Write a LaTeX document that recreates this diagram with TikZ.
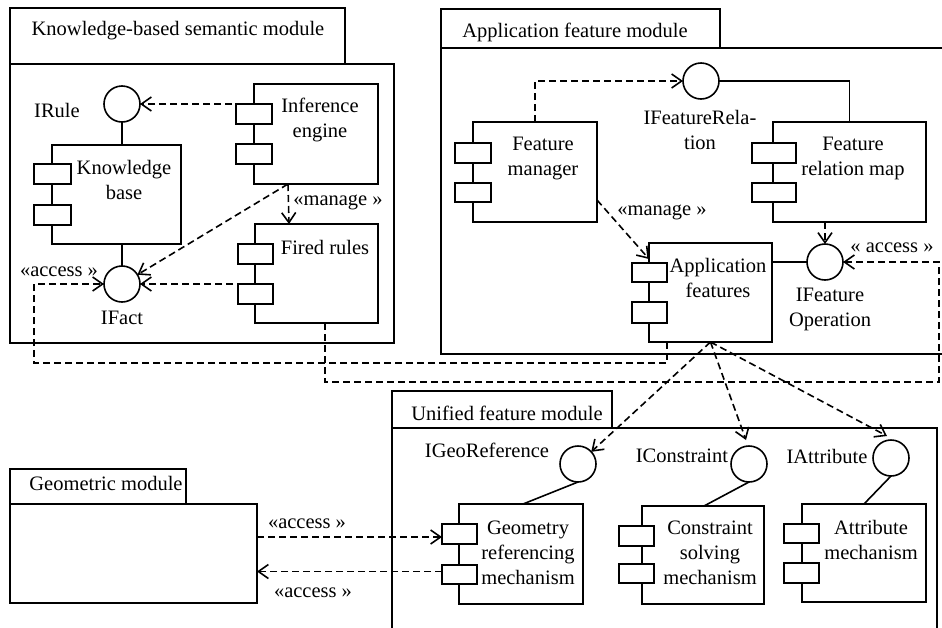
\documentclass[tikz,border=0pt]{standalone}
\usepackage{fontspec}
\setmainfont{Liberation Serif}
\usetikzlibrary{arrows.meta,calc}
\tikzset{
  box/.style={draw, line width=1.6pt, inner sep=0pt, outer sep=0pt, anchor=north west},
  port/.style={box, fill=white},
  iface/.style={circle, draw, line width=1.6pt, minimum size=36pt, inner sep=0pt, outer sep=0pt, fill=white},
  lbl/.style={inner sep=0pt, align=center, font=\fontsize{20.5}{25}\selectfont},
  dep/.style={line width=1.6pt, dash pattern=on 7pt off 4pt, -{Straight Barb[length=10pt,width=14pt,line width=1.6pt]}},
  solid link/.style={line width=1.6pt},
}
\begin{document}
\begin{tikzpicture}[x=1pt,y=-1pt]
\useasboundingbox (0,0) rectangle (942,627);
% ---------- Knowledge-based semantic module
\node[box, minimum width=335pt, minimum height=56pt] (kbtab) at (10,8) {};
\node[box, minimum width=384pt, minimum height=279pt] (kbbody) at (10,64) {};
\node[lbl] (kbtitle) at (178,31) {Knowledge-based semantic module};
% ---------- Application feature module
\node[box, minimum width=279pt, minimum height=39pt] (aptab) at (441,9) {};
\draw[line width=1.6pt] (946,48) -- (441,48) -- (441,354) -- (946,354);
\node[lbl] (aptitle) at (575,32) {Application feature module};
% ---------- Unified feature module
\node[box, minimum width=220pt, minimum height=37pt] (uftab) at (392,391) {};
\draw[line width=1.6pt] (392,632) -- (392,428) -- (937,428) -- (937,632);
\node[lbl] (uftitle) at (507,413) {Unified feature module};
% ---------- Geometric module
\node[box, minimum width=176pt, minimum height=35pt] (gmtab) at (10,469) {};
\node[box, minimum width=247pt, minimum height=99pt] (gm) at (10,504) {};
\node[lbl] (gmtitle) at (106,483) {Geometric module};

% ---------- components (KB module)
\node[box, minimum width=129pt, minimum height=99pt] (kb) at (52,145) {};
\node[port, minimum width=37pt, minimum height=20pt] (kbp1) at (34,164) {};
\node[port, minimum width=37pt, minimum height=20pt] (kbp2) at (34,205) {};
\node[lbl] (kbtext) at (124,180) {Knowledge\\base};

\node[box, minimum width=124pt, minimum height=100pt] (inf) at (254,84) {};
\node[port, minimum width=36pt, minimum height=20pt] (ip1) at (236,104) {};
\node[port, minimum width=36pt, minimum height=20pt] (ip2) at (236,144) {};
\node[lbl] (inftext) at (320,120) {Inference\\engine};

\node[box, minimum width=123pt, minimum height=99pt] (fired) at (255,224) {};
\node[port, minimum width=35pt, minimum height=20pt] (fp1) at (238,244) {};
\node[port, minimum width=35pt, minimum height=20pt] (fp2) at (238,284) {};
\node[lbl] (firedtext) at (325,247) {Fired rules};

\node[iface] (irule) at (122,104) {};
\node[lbl] (irulelbl) at (57,110) {IRule};
\node[iface] (ifact) at (122,284) {};
\node[lbl] (ifactlbl) at (122,318) {IFact};

% ---------- components (Application module)
\node[box, minimum width=124pt, minimum height=100pt] (fm) at (473,122) {};
\node[port, minimum width=36pt, minimum height=20pt] (fmp1) at (455,143) {};
\node[port, minimum width=36pt, minimum height=19pt] (fmp2) at (455,183) {};
\node[lbl] (fmtext) at (543,158) {Feature\\manager};

\node[box, minimum width=153pt, minimum height=100pt] (frm) at (773,122) {};
\node[port, minimum width=44pt, minimum height=20pt] (frmp1) at (752,143) {};
\node[port, minimum width=44pt, minimum height=19pt] (frmp2) at (752,183) {};
\node[lbl] (frmtext) at (853,158) {Feature\\relation map};

\node[box, minimum width=123pt, minimum height=99pt] (af) at (649,243) {};
\node[port, minimum width=35pt, minimum height=19pt] (afp1) at (632,263) {};
\node[port, minimum width=35pt, minimum height=21pt] (afp2) at (632,302) {};
\node[lbl] (aftext) at (718,278) {Application\\features};

\node[iface] (irel) at (701,81) {};
\node[lbl] (irellbl) at (700,130) {IFeatureRela-\\tion};
\node[iface] (ifop) at (825,262) {};
\node[lbl] (ifoplbl) at (830,309) {IFeature\\Operation};

% ---------- components (Unified module)
\node[box, minimum width=124pt, minimum height=100pt] (geo) at (459,504) {};
\node[port, minimum width=35pt, minimum height=20pt] (gp1) at (442,524) {};
\node[port, minimum width=35pt, minimum height=19pt] (gp2) at (442,565) {};
\node[lbl] (geotext) at (528,553) {Geometry\\referencing\\mechanism};

\node[box, minimum width=122pt, minimum height=98pt] (cons) at (642,506) {};
\node[port, minimum width=35pt, minimum height=20pt] (cp1) at (619,526) {};
\node[port, minimum width=35pt, minimum height=19pt] (cp2) at (619,564) {};
\node[lbl] (constext) at (710,553) {Constraint\\solving\\mechanism};

\node[box, minimum width=124pt, minimum height=98pt] (attr) at (802,504) {};
\node[port, minimum width=35pt, minimum height=19pt] (ap1) at (784,524) {};
\node[port, minimum width=35pt, minimum height=20pt] (ap2) at (784,563) {};
\node[lbl] (attrtext) at (871,540) {Attribute\\mechanism};

\node[iface] (igeo) at (578,464) {};
\node[lbl] (igeolbl) at (487,450) {IGeoReference};
\node[iface] (icons) at (749,464) {};
\node[lbl] (iconslbl) at (682,456) {IConstraint};
\node[iface] (iattr) at (891,458) {};
\node[lbl] (iattrlbl) at (827,456) {IAttribute};

% ---------- connectors: KB module
\draw[dep] (inf.west |- irule) -- (irule);
\draw[dep] ([xshift=34pt]inf.south west) -- ([xshift=34pt]fired.north west);
\node[lbl] (mng1) at (338,202) {«manage »};
\draw[dep] ([xshift=34pt]inf.south west) -- (ifact);
\draw[dep] (fired.west |- ifact) -- (ifact);
\draw[solid link] (irule) -- (kb.north -| irule);
\draw[solid link] (kb.south -| ifact) -- (ifact);

% access loop from application features to IFact
\coordinate (a1) at ($(af.south west)+(18,0)$);
\coordinate (a2) at ($(a1)+(0,21)$);
\coordinate (a3) at (34,363);
\draw[dep] (a1) -- (a2) -- (a3) -- (a3 |- ifact) -- (ifact);
\node[lbl] (acc1) at (59,272) {«access »};

% access loop from fired rules to IFeatureOperation
\coordinate (b1) at ($(fired.south west)+(70,0)$);
\coordinate (b2) at ($(b1)+(0,59)$);
\coordinate (b3) at (939,382);
\draw[dep] (b1) -- (b2) -- (b3) -- (b3 |- ifop) -- (ifop);
\node[lbl] (acc2) at (892,248) {« access »};

% ---------- connectors: application module
\draw[dep] (fm.north) -- (fm.north |- irel) -- (irel);
\draw[solid link] (irel) -- (irel -| frm.north) -- (frm.north);
\draw[dep] ([yshift=22pt]fm.south east) -- ([yshift=-16pt]af.north west);
\node[lbl] (mng2) at (662,212) {«manage »};
\draw[dep] (ifop |- frm.south) -- (ifop);
\draw[solid link] (af.east |- ifop) -- (ifop);

% ---------- application features to unified interfaces
\draw[dep] (af.south) -- (igeo);
\draw[dep] (af.south) -- ($(icons.north)+(-3,-6)$);
\draw[dep] (af.south) -- ($(iattr.north)+(-4,-4)$);
\draw[solid link] (igeo.south) -- ([xshift=64pt]geo.north west);
\draw[solid link] (icons.south) -- ([xshift=62pt]cons.north west);
\draw[solid link] (iattr.south) -- ([xshift=62pt]attr.north west);

% ---------- geometric module
\draw[dep] ([yshift=-3pt]gm.east |- gp1.west) -- ([yshift=-3pt]gp1.west);
\node[lbl] (acc3) at (307,524) {«access »};
\draw[dep] ([yshift=3pt]gp2.west) -- ([yshift=3pt]gm.east |- gp2.west);
\node[lbl] (acc4) at (313,593) {«access »};
\end{tikzpicture}
\end{document}
